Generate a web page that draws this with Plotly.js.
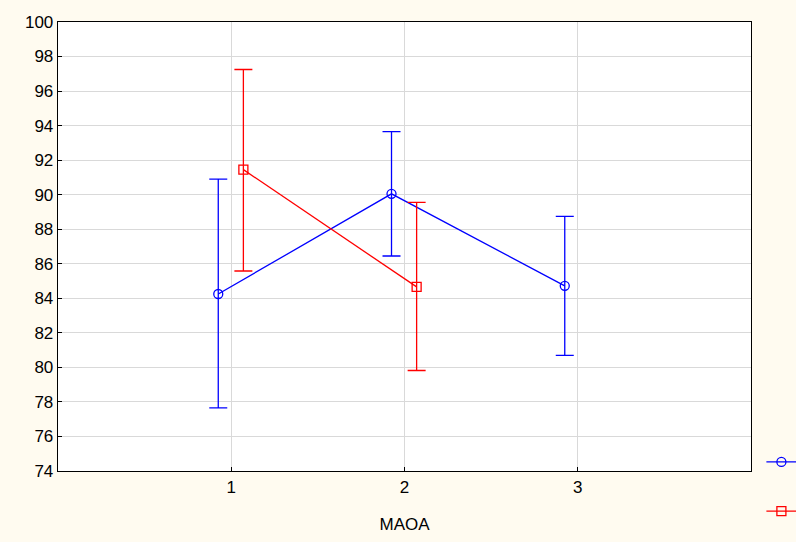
<!DOCTYPE html>
<html>
<head>
<meta charset="utf-8">
<script src="https://cdn.plot.ly/plotly-3.0.1.min.js"></script>
<style>html,body{margin:0;padding:0;background:#fffbf0;}#chart{width:796px;height:542px;}</style>
</head>
<body>
<div id="chart"></div>
<script>
const categories = [1, 2, 3];
const blueX = [0.925, 1.925, 2.925];
const blueMean = [84.25, 90.05, 84.72];
const blueUpper = [90.9, 93.65, 88.75];
const blueLower = [77.65, 86.45, 80.7];

const redX = [1.07, 2.07];
const redMean = [91.45, 84.66];
const redUpper = [97.25, 89.55];
const redLower = [85.58, 79.82];

const yTicks = [74, 76, 78, 80, 82, 84, 86, 88, 90, 92, 94, 96, 98, 100];

function plus(m, u) { return m.map((v, i) => u[i] - v); }
function minus(m, l) { return m.map((v, i) => v - l[i]); }

const traces = [
  {
    x: blueX, y: blueMean, type: 'scatter', mode: 'lines+markers', name: ' ',
    legendgroup: 'a',
    line: {color: '#0000ff', width: 1.3},
    marker: {symbol: 'circle-open', size: 9, color: '#0000ff', line: {width: 1.3}},
    error_y: {type: 'data', symmetric: false, array: plus(blueMean, blueUpper), arrayminus: minus(blueMean, blueLower),
      color: '#0000ff', thickness: 1.3, width: 9}
  },
  {
    x: redX, y: redMean, type: 'scatter', mode: 'lines+markers', name: ' ',
    legendgroup: 'b',
    line: {color: '#ff0000', width: 1.3},
    marker: {symbol: 'square-open', size: 9, color: '#ff0000', line: {width: 1.3}},
    error_y: {type: 'data', symmetric: false, array: plus(redMean, redUpper), arrayminus: minus(redMean, redLower),
      color: '#ff0000', thickness: 1.3, width: 9}
  }
];

const layout = {
  width: 796, height: 542,
  paper_bgcolor: '#fffbf0',
  plot_bgcolor: '#ffffff',
  margin: {l: 58, r: 45, t: 22, b: 71, autoexpand: false},
  font: {family: 'Liberation Sans, Arial, sans-serif', size: 17, color: '#000'},
  showlegend: true,
  legend: {x: 1.015, y: 0.055, xanchor: 'left', yanchor: 'top', traceorder: 'grouped', tracegroupgap: 28,
    bgcolor: 'rgba(0,0,0,0)', font: {size: 14}},
  xaxis: {
    range: [0, 4], tickvals: categories, ticktext: categories.map(String),
    showgrid: true, gridcolor: '#d9d9d9', gridwidth: 1,
    showline: true, linecolor: '#000', linewidth: 1.3, mirror: true,
    ticks: 'inside', ticklen: 4, tickcolor: '#000',
    zeroline: false,
    title: {text: 'MAOA', font: {size: 17}, standoff: 22}
  },
  yaxis: {
    range: [74, 100], tickvals: yTicks,
    showgrid: true, gridcolor: '#d9d9d9', gridwidth: 1,
    showline: true, linecolor: '#000', linewidth: 1.3, mirror: true,
    ticks: 'inside', ticklen: 4, tickcolor: '#000',
    zeroline: false
  }
};

Plotly.newPlot('chart', traces, layout, {displayModeBar: false, staticPlot: true});
</script>
</body>
</html>
